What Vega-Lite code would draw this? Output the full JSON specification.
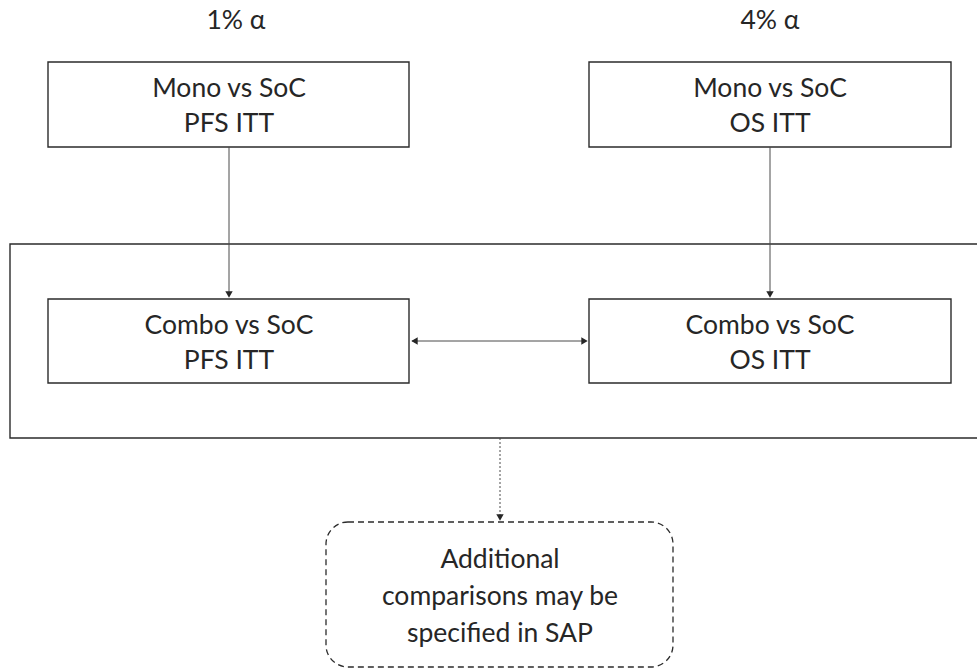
{
  "$schema": "https://vega.github.io/schema/vega-lite/v6.json",
  "width": 977,
  "height": 670,
  "autosize": {"type": "fit", "contains": "padding"},
  "padding": 0,
  "background": "white",
  "config": {"view": {"stroke": null}},
  "datasets": {
    "boxes": [
      {"id": "outer", "x": 10, "x2": 990, "y": 244, "y2": 438},
      {"id": "monoPFS", "x": 48, "x2": 409, "y": 62, "y2": 147},
      {"id": "monoOS", "x": 589, "x2": 951, "y": 62, "y2": 147},
      {"id": "comboPFS", "x": 48, "x2": 409, "y": 299, "y2": 383},
      {"id": "comboOS", "x": 589, "x2": 951, "y": 299, "y2": 383}
    ],
    "dashbox": [
      {"id": "additional", "x": 326, "x2": 673, "y": 522, "y2": 667}
    ],
    "lines": [
      {"id": "pfs", "x": 229, "x2": 229, "y": 147, "y2": 294},
      {"id": "os", "x": 770, "x2": 770, "y": 147, "y2": 294},
      {"id": "between", "x": 412, "x2": 586, "y": 341, "y2": 341}
    ],
    "dotted": [
      {"id": "sap", "x": 500, "x2": 500, "y": 438, "y2": 517}
    ],
    "heads": [
      {"x": 229, "y": 294.5, "shape": "triangle-down"},
      {"x": 770, "y": 294.5, "shape": "triangle-down"},
      {"x": 414.5, "y": 341, "shape": "triangle-left"},
      {"x": 584.5, "y": 341, "shape": "triangle-right"},
      {"x": 500, "y": 517.5, "shape": "triangle-down"}
    ],
    "labels": [
      {"text": "1% α", "x": 236, "y": 29},
      {"text": "4% α", "x": 770, "y": 29},
      {"text": "Mono vs SoC", "x": 229, "y": 97},
      {"text": "PFS ITT", "x": 229, "y": 132},
      {"text": "Mono vs SoC", "x": 770, "y": 97},
      {"text": "OS ITT", "x": 770, "y": 132},
      {"text": "Combo vs SoC", "x": 229, "y": 334},
      {"text": "PFS ITT", "x": 229, "y": 369},
      {"text": "Combo vs SoC", "x": 770, "y": 334},
      {"text": "OS ITT", "x": 770, "y": 369},
      {"text": "Additional", "x": 500, "y": 568},
      {"text": "comparisons may be", "x": 500, "y": 605},
      {"text": "specified in SAP", "x": 500, "y": 642}
    ]
  },
  "encoding": {
    "x": {"field": "x", "type": "quantitative", "scale": {"domain": [0, 977], "nice": false, "zero": false}, "axis": null},
    "y": {"field": "y", "type": "quantitative", "scale": {"domain": [0, 670], "nice": false, "zero": false, "reverse": true}, "axis": null}
  },
  "layer": [
    {
      "data": {"name": "boxes"},
      "mark": {"type": "rect", "fill": "white", "stroke": "#2b2b2b", "strokeWidth": 1.4, "clip": true},
      "encoding": {"x2": {"field": "x2"}, "y2": {"field": "y2"}}
    },
    {
      "data": {"name": "dashbox"},
      "mark": {"type": "rect", "fill": "white", "stroke": "#2b2b2b", "strokeWidth": 1.3, "strokeDash": [6, 4], "cornerRadius": 22},
      "encoding": {"x2": {"field": "x2"}, "y2": {"field": "y2"}}
    },
    {
      "data": {"name": "lines"},
      "mark": {"type": "rule", "stroke": "#4a4a4a", "strokeWidth": 1},
      "encoding": {"x2": {"field": "x2"}, "y2": {"field": "y2"}}
    },
    {
      "data": {"name": "dotted"},
      "mark": {"type": "rule", "stroke": "#4a4a4a", "strokeWidth": 1, "strokeDash": [2, 2]},
      "encoding": {"x2": {"field": "x2"}, "y2": {"field": "y2"}}
    },
    {
      "data": {"name": "heads"},
      "mark": {"type": "point", "filled": true, "color": "#262626", "opacity": 1, "size": 55},
      "encoding": {"shape": {"field": "shape", "type": "nominal", "scale": null}}
    },
    {
      "data": {"name": "labels"},
      "mark": {"type": "text", "font": "Lato", "fontSize": 26.5, "color": "#262626", "align": "center", "baseline": "alphabetic"},
      "encoding": {"text": {"field": "text"}}
    }
  ]
}
